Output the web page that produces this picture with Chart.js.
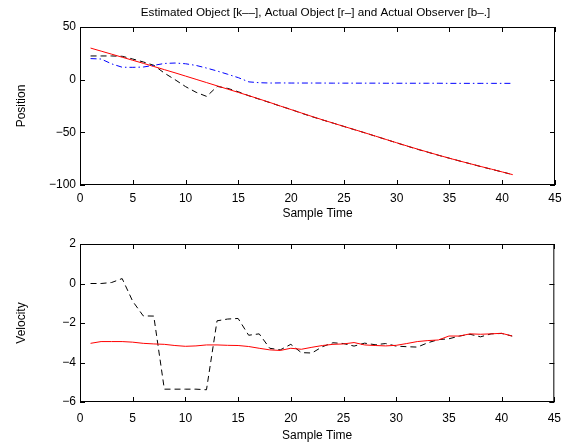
<!DOCTYPE html>
<html>
<head>
<meta charset="utf-8">
<script src="https://cdn.jsdelivr.net/npm/chart.js@4/dist/chart.umd.min.js"></script>
<style>
  html, body { margin: 0; padding: 0; background: #fff; }
  canvas { display: block; }
</style>
</head>
<body>
<canvas id="posChart" width="570" height="223"></canvas>
<canvas id="velChart" width="570" height="223"></canvas>
<script>
// sample index 1..41
const sampleTime = [1, 2, 3, 4, 5, 6, 7, 8, 9, 10, 11, 12, 13, 14, 15, 16, 17, 18, 19, 20,
  21, 22, 23, 24, 25, 26, 27, 28, 29, 30, 31, 32, 33, 34, 35, 36, 37, 38, 39, 40, 41];

// position of estimated object (k--), actual object (r-) and observer (b-.)
const estPosition = [22.5, 22.5, 22.5, 22.2, 19.6, 16.8, 13.6, 6.2, 0.0, -6.6, -12.0, -15.9, -6.4, -8.3, -11.5,
  -15.3, -18.6, -21.8, -25.2, -28.3, -31.9, -35.2, -38.3, -41.3, -44.4, -47.5, -50.5, -53.7, -56.8, -60.0,
  -63.1, -66.2, -69.0, -71.9, -74.6, -77.3, -79.9, -82.6, -85.1, -87.6, -90.2];
const actPosition = [30.0, 27.1, 24.2, 21.3, 18.4, 15.5, 12.5, 9.5, 6.5, 3.4, 0.3, -2.8, -5.9, -9.0, -12.1,
  -15.2, -18.4, -21.7, -25.1, -28.4, -31.7, -35.0, -38.2, -41.3, -44.4, -47.4, -50.5, -53.6, -56.8, -59.9,
  -63.0, -66.0, -68.9, -71.8, -74.6, -77.3, -79.9, -82.5, -85.0, -87.6, -90.2];
const obsPosition = [20.0, 19.6, 15.0, 11.8, 11.7, 12.0, 13.6, 15.4, 15.8, 15.1, 13.5, 11.0, 8.2, 5.1, 1.9,
  -2.1, -2.9, -3.2, -3.1, -3.2, -3.2, -3.2, -3.2, -3.3, -3.3, -3.3, -3.3, -3.3, -3.4, -3.4,
  -3.4, -3.4, -3.4, -3.4, -3.5, -3.5, -3.5, -3.5, -3.5, -3.5, -3.5];

// velocity of estimated object (k--) and actual object (r-)
const estVelocity = [0, 0, 0.05, 0.25, -0.9, -1.64, -1.65, -5.35, -5.35, -5.35, -5.35, -5.38, -1.89, -1.8, -1.77,
  -2.62, -2.55, -3.28, -3.36, -3.08, -3.5, -3.52, -3.2, -3.0, -3.04, -3.17, -3.02, -3.1, -3.04, -3.17,
  -3.2, -3.22, -3.0, -2.84, -2.8, -2.66, -2.57, -2.7, -2.55, -2.53, -2.66];
const actVelocity = [-3.03, -2.94, -2.94, -2.94, -2.97, -3.03, -3.06, -3.08, -3.14, -3.18, -3.16, -3.11, -3.11, -3.13, -3.14,
  -3.19, -3.28, -3.36, -3.39, -3.28, -3.33, -3.23, -3.14, -3.08, -3.06, -2.99, -3.11, -3.14, -3.16, -3.13,
  -3.04, -2.94, -2.89, -2.86, -2.66, -2.66, -2.55, -2.57, -2.55, -2.52, -2.66];

const xTicks = { min: 0, max: 45, step: 5 };
const posTicks = { min: -100, max: 50, step: 50 };
const velTicks = { min: -6, max: 2, step: 2 };

const titleText = "Estimated Object [k\u2013\u2013], Actual Object [r\u2013] and Actual Observer [b\u2013.]";

Chart.defaults.font.family = '"Liberation Sans", Arial, Helvetica, sans-serif';
Chart.defaults.font.size = 12;
Chart.defaults.color = "#000";

const toXY = (ys) => ys.map((v, i) => ({ x: sampleTime[i], y: v }));
const minus = (v) => String(v).replace("-", "\u2212");

// matlab-like box with inward ticks on all four sides
const boxAxes = {
  id: "boxAxes",
  afterDraw(chart, args, opts) {
    const { ctx, chartArea: a, scales } = chart;
    const len = 5;
    ctx.save();
    ctx.strokeStyle = "#000";
    ctx.lineWidth = 1;
    ctx.beginPath();
    scales.x.ticks.forEach((t) => {
      const px = Math.round(scales.x.getPixelForValue(t.value)) + 0.5;
      ctx.moveTo(px, a.bottom);
      ctx.lineTo(px, a.bottom - len);
      ctx.moveTo(px, a.top);
      ctx.lineTo(px, a.top + len);
    });
    scales.y.ticks.forEach((t) => {
      const py = Math.round(scales.y.getPixelForValue(t.value)) + 0.5;
      ctx.moveTo(a.left, py);
      ctx.lineTo(a.left + len, py);
      ctx.moveTo(a.right, py);
      ctx.lineTo(a.right - len, py);
    });
    ctx.stroke();
    ctx.strokeRect(a.left + 0.5, a.top + 0.5, a.width - 1, a.height - 1);
    if (opts.title) {
      ctx.fillStyle = "#000";
      ctx.font = '11.7px "Liberation Sans", Arial, sans-serif';
      ctx.textAlign = "center";
      ctx.textBaseline = "middle";
      ctx.fillText(opts.title, (a.left + a.right) / 2 - 2, opts.titleY);
    }
    ctx.restore();
  },
};

const makeAxes = (yTicks, yLabel, axisH, xTitlePad, tickPad) => ({
  x: {
    type: "linear",
    min: xTicks.min,
    max: xTicks.max,
    grid: { display: false, drawTicks: false },
    border: { display: false },
    ticks: { stepSize: xTicks.step, padding: tickPad, autoSkip: false, maxRotation: 0 },
    title: { display: true, text: "Sample Time", padding: { top: 0, bottom: xTitlePad } },
    afterFit: (s) => { s.height = axisH; },
  },
  y: {
    type: "linear",
    min: yTicks.min,
    max: yTicks.max,
    grid: { display: false, drawTicks: false },
    border: { display: false },
    ticks: { stepSize: yTicks.step, padding: 4, callback: (v) => minus(v) },
    title: { display: true, text: yLabel, padding: { top: 14, bottom: 0 } },
    afterFit: (s) => { s.width = 80; },
  },
});

const lineSet = (data, color, dash) => ({
  data: toXY(data),
  borderColor: color,
  borderWidth: 1,
  borderDash: dash,
  pointRadius: 0,
  tension: 0,
  fill: false,
});

// Position plot
new Chart(document.getElementById("posChart"), {
  type: "line",
  data: {
    datasets: [
      lineSet(obsPosition, "#0000ff", [6, 3, 1.5, 3]),
      lineSet(actPosition, "#ff0000", []),
      lineSet(estPosition, "#000000", [6, 4]),
    ],
  },
  options: {
    responsive: false,
    animation: false,
    layout: { padding: { top: 27, right: 15, left: 0, bottom: 0 } },
    scales: makeAxes(posTicks, "Position", 38, 2, 6),
    plugins: {
      legend: { display: false },
      tooltip: { enabled: false },
      boxAxes: { title: titleText, titleY: 13 },
    },
  },
  plugins: [boxAxes],
});

// Velocity plot
new Chart(document.getElementById("velChart"), {
  type: "line",
  data: {
    datasets: [
      lineSet(actVelocity, "#ff0000", []),
      lineSet(estVelocity, "#000000", [6, 4]),
    ],
  },
  options: {
    responsive: false,
    animation: false,
    layout: { padding: { top: 21, right: 15, left: 0, bottom: 0 } },
    scales: makeAxes(velTicks, "Velocity", 44, 3, 9),
    plugins: {
      legend: { display: false },
      tooltip: { enabled: false },
      boxAxes: { title: null },
    },
  },
  plugins: [boxAxes],
});
</script>
</body>
</html>
